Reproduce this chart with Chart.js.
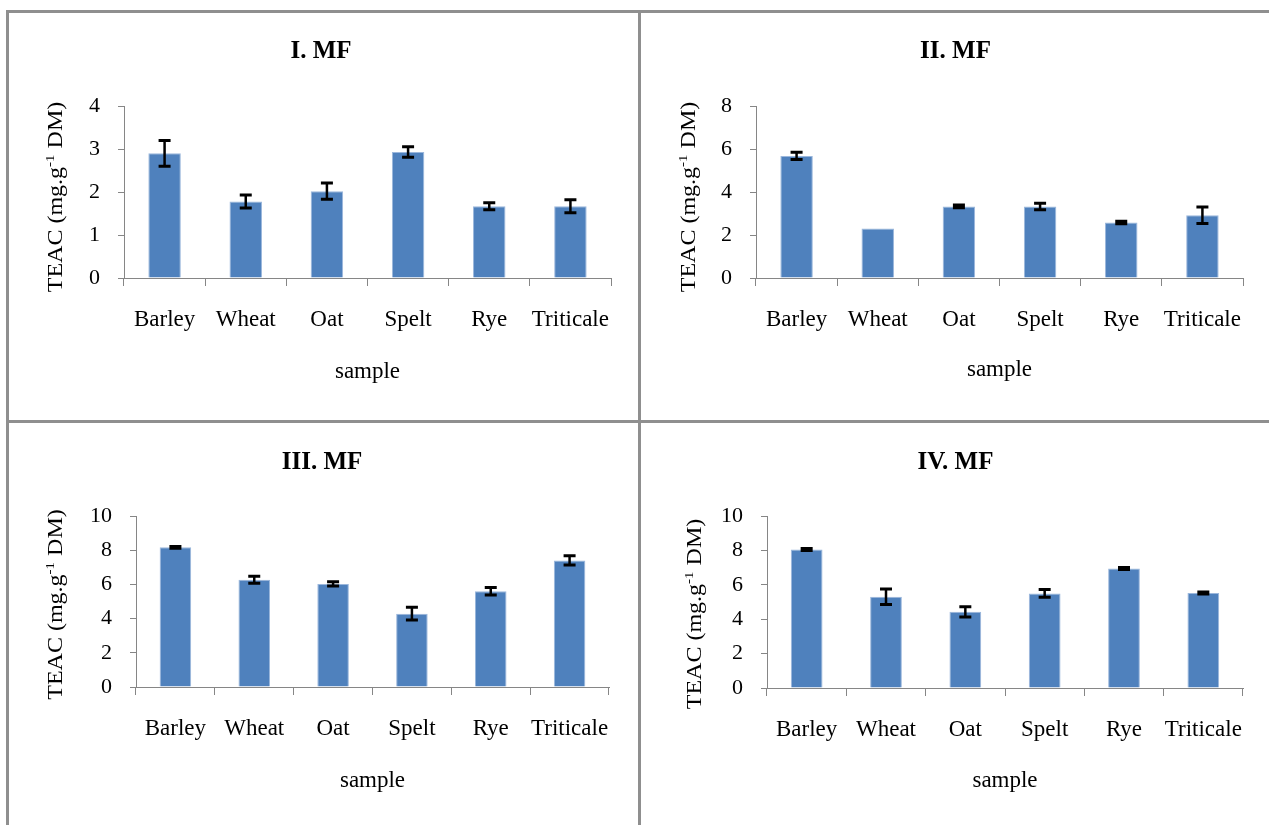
<!DOCTYPE html>
<html>
<head>
  <meta charset="utf-8">
  <title>TEAC by mill fraction</title>
  <script src="https://cdn.jsdelivr.net/npm/chart.js@4.4.1/dist/chart.umd.min.js"></script>
  <style>
    body { margin: 0; background: #ffffff; }
    .line { position: absolute; background: #8f8f8f; }
    .panel { position: absolute; }
  </style>
</head>
<body>
  <div class="line" style="left:6px; top:10px; width:1263px; height:3px;"></div>
  <div class="line" style="left:6px; top:10px; width:3px; height:815px;"></div>
  <div class="line" style="left:6px; top:420px; width:1263px; height:3px;"></div>
  <div class="line" style="left:638px; top:10px; width:3px; height:815px;"></div>

  <canvas id="c1" class="panel" width="629" height="407" style="left:9px; top:13px;"></canvas>
  <canvas id="c2" class="panel" width="628" height="407" style="left:641px; top:13px;"></canvas>
  <canvas id="c3" class="panel" width="629" height="402" style="left:9px; top:423px;"></canvas>
  <canvas id="c4" class="panel" width="628" height="402" style="left:641px; top:423px;"></canvas>

  <script>
    // data
    var samples = ['Barley', 'Wheat', 'Oat', 'Spelt', 'Rye', 'Triticale'];
    var titles = ['I. MF', 'II. MF', 'III. MF', 'IV. MF'];

    var teac1 = [2.90, 1.78, 2.02, 2.93, 1.67, 1.67];
    var sd1   = [0.30, 0.15, 0.19, 0.12, 0.08, 0.15];
    var teac2 = [5.68, 2.30, 3.33, 3.33, 2.58, 2.92];
    var sd2   = [0.17, 0.00, 0.06, 0.15, 0.06, 0.38];
    var teac3 = [8.17, 6.27, 6.03, 4.29, 5.60, 7.40];
    var sd3   = [0.05, 0.20, 0.13, 0.37, 0.22, 0.27];
    var teac4 = [8.05, 5.30, 4.43, 5.50, 6.95, 5.52];
    var sd4   = [0.06, 0.45, 0.30, 0.23, 0.06, 0.06];

    var yMax  = [4, 8, 10, 10];
    var yStep = [1, 2, 2, 2];

    var serif = '"Liberation Serif", "Times New Roman", serif';

    // error bars, drawn from the bar elements and the y scale
    var errorBars = {
      id: 'errorBars',
      afterDatasetsDraw: function(chart, args, opts) {
        var ctx = chart.ctx;
        var y = chart.scales.y;
        var meta = chart.getDatasetMeta(0);
        var vals = chart.data.datasets[0].data;
        ctx.save();
        ctx.strokeStyle = '#000000';
        meta.data.forEach(function(bar, i) {
          var e = opts.sd[i];
          if (!e) return;
          var top = y.getPixelForValue(vals[i] + e);
          var bot = y.getPixelForValue(vals[i] - e);
          ctx.lineWidth = 2.5;
          ctx.beginPath();
          ctx.moveTo(bar.x, top);
          ctx.lineTo(bar.x, bot);
          ctx.stroke();
          ctx.lineWidth = 3;
          ctx.beginPath();
          ctx.moveTo(bar.x - 6, top); ctx.lineTo(bar.x + 6, top);
          ctx.moveTo(bar.x - 6, bot); ctx.lineTo(bar.x + 6, bot);
          ctx.stroke();
        });
        ctx.restore();
      }
    };

    // rotated y title with superscript, narrow like the original
    var yTitle = {
      id: 'yTitle',
      afterDraw: function(chart, args, opts) {
        var ctx = chart.ctx;
        var a = chart.chartArea;
        var main = '24px ' + serif, sup = '15px ' + serif;
        var p1 = 'TEAC (mg.g', p2 = '-1', p3 = ' DM)';
        ctx.save();
        ctx.fillStyle = '#000000';
        ctx.textBaseline = 'middle';
        ctx.textAlign = 'left';
        ctx.font = main;
        var w1 = ctx.measureText(p1).width, w3 = ctx.measureText(p3).width;
        ctx.font = sup;
        var w2 = ctx.measureText(p2).width;
        ctx.translate(opts.x, (a.top + a.bottom) / 2 + opts.dy);
        ctx.rotate(-Math.PI / 2);
        ctx.scale(1, 0.85);
        var cx = -(w1 + w2 + w3) / 2;
        ctx.font = main;
        ctx.fillText(p1, cx, 0);
        cx += w1;
        ctx.font = sup;
        ctx.fillText(p2, cx, -8);
        cx += w2;
        ctx.font = main;
        ctx.fillText(p3, cx, 0);
        ctx.restore();
      }
    };

    var panels = [
      { id: 'c1', data: teac1, sd: sd1, pl: 22, yw: 93, pr: 27, top: 93, xh: 142, ty: 39, sb: 34, yx: 48, dy: 5 },
      { id: 'c2', data: teac2, sd: sd2, pl: 27, yw: 88, pr: 26, top: 93, xh: 142, ty: 39, sb: 36, yx: 49, dy: 5 },
      { id: 'c3', data: teac3, sd: sd3, pl: 26, yw: 101, pr: 29, top: 93, xh: 138, ty: 40, sb: 30, yx: 48, dy: 3 },
      { id: 'c4', data: teac4, sd: sd4, pl: 27, yw: 99, pr: 26, top: 93, xh: 137, ty: 40, sb: 30, yx: 55, dy: 12 }
    ];

    panels.forEach(function(p, k) {
      new Chart(document.getElementById(p.id), {
        type: 'bar',
        data: {
          labels: samples,
          datasets: [{
            data: p.data,
            backgroundColor: '#4f81bd',
            borderColor: '#9bb7dc',
            borderWidth: 1,
            categoryPercentage: 1.0,
            barPercentage: 0.4
          }]
        },
        options: {
          responsive: false,
          animation: false,
          layout: { padding: { left: p.pl, right: p.pr, top: 0, bottom: 0 } },
          plugins: {
            legend: { display: false },
            tooltip: { enabled: false },
            title: {
              display: true,
              text: titles[k],
              color: '#000000',
              font: { family: serif, size: 25, weight: 'bold', lineHeight: 1.2 },
              padding: { top: p.ty - 15, bottom: p.top - (p.ty - 15) - 30 }
            },
            errorBars: { sd: p.sd },
            yTitle: { x: p.yx, dy: p.dy }
          },
          scales: {
            x: {
              grid: { drawOnChartArea: false, drawTicks: true, tickLength: 8, color: '#868686' },
              border: { display: true, color: '#868686', width: 1 },
              ticks: { color: '#000000', padding: 20, autoSkip: false, maxRotation: 0, font: { family: serif, size: 23 } },
              title: {
                display: true,
                text: 'sample',
                color: '#000000',
                font: { family: serif, size: 23 },
                padding: { top: 0, bottom: p.sb }
              },
              afterFit: function(s) { s.height = p.xh; }
            },
            y: {
              min: 0,
              max: yMax[k],
              grid: { drawOnChartArea: false, drawTicks: true, tickLength: 6, color: '#868686' },
              border: { display: true, color: '#868686', width: 1 },
              ticks: { stepSize: yStep[k], color: '#000000', padding: 18, font: { family: serif, size: 22 } },
              afterFit: function(s) { s.width = p.yw; }
            }
          }
        },
        plugins: [errorBars, yTitle]
      });
    });
  </script>
</body>
</html>
